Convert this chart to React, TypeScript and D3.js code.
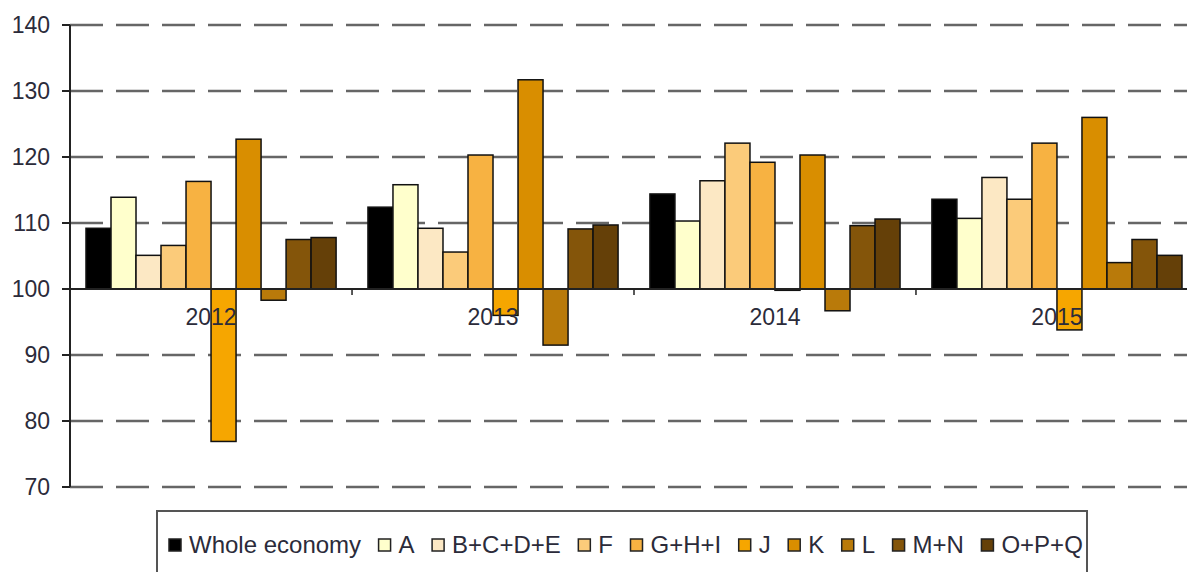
import React, { useRef, useEffect } from 'react';
import * as d3 from 'd3';

const years = ['2012', '2013', '2014', '2015'];
const sectors = ['Whole economy', 'A', 'B+C+D+E', 'F', 'G+H+I', 'J', 'K', 'L', 'M+N', 'O+P+Q'];
const colors = ['#000000', '#FFFFCC', '#FCE8C4', '#FBCB7A', '#F7B242', '#F6A600', '#D98E00', '#B97A0A', '#84550A', '#654008'];

// one array per year, in sector order
const values2012 = [109.2, 113.9, 105.1, 106.6, 116.3, 76.9, 122.7, 98.3, 107.5, 107.8];
const values2013 = [112.4, 115.8, 109.2, 105.6, 120.3, 96.0, 131.7, 91.5, 109.1, 109.7];
const values2014 = [114.4, 110.3, 116.4, 122.1, 119.2, 99.8, 120.3, 96.7, 109.6, 110.6];
const values2015 = [113.6, 110.7, 116.9, 113.6, 122.1, 93.8, 126.0, 104.0, 107.5, 105.1];
const yTicks = [70, 80, 90, 100, 110, 120, 130, 140];

const seriesByYear = [values2012, values2013, values2014, values2015];

const font = 'Arial, "Liberation Sans", sans-serif';

const App = () => {
  const svgRef = useRef<SVGSVGElement>(null);
  const width = 1187;
  const height = 572;

  useEffect(() => {
    const svg = d3.select(svgRef.current);
    svg.selectAll('*').remove();

    const left = 70;
    const right = 1198;
    const y = d3.scaleLinear().domain([70, 140]).range([487, 25]);
    const x0 = d3.scaleBand().domain(years).range([left, right]).paddingInner(0.113).paddingOuter(0.0567);
    const x1 = d3.scaleBand().domain(sectors).range([0, x0.bandwidth()]);
    const half = (x0.step() - x0.bandwidth()) / 2;

    // gridlines
    svg.append('g')
      .selectAll('line')
      .data(yTicks.filter((t) => t !== 100))
      .enter()
      .append('line')
      .attr('x1', left)
      .attr('x2', right)
      .attr('y1', (d) => y(d))
      .attr('y2', (d) => y(d))
      .attr('stroke', '#666')
      .attr('stroke-width', 2.5)
      .attr('stroke-dasharray', '33,13');

    // bars
    const groups = svg.append('g')
      .selectAll('g')
      .data(years)
      .enter()
      .append('g')
      .attr('transform', (d) => `translate(${x0(d)},0)`);

    groups.selectAll('rect')
      .data((d, i) => seriesByYear[i].map((v, j) => ({ sector: sectors[j], value: v, color: colors[j] })))
      .enter()
      .append('rect')
      .attr('x', (d) => x1(d.sector)!)
      .attr('width', x1.bandwidth())
      .attr('y', (d) => Math.min(y(d.value), y(100)))
      .attr('height', (d) => Math.abs(y(d.value) - y(100)))
      .attr('fill', (d) => d.color)
      .attr('stroke', '#111')
      .attr('stroke-width', 1.5);

    // y axis
    const axis = svg.append('g');
    axis.append('line')
      .attr('x1', left).attr('x2', left)
      .attr('y1', y(140)).attr('y2', y(70))
      .attr('stroke', '#222').attr('stroke-width', 2);
    axis.selectAll('line.tick')
      .data(yTicks)
      .enter()
      .append('line')
      .attr('class', 'tick')
      .attr('x1', left - 8).attr('x2', left)
      .attr('y1', (d) => y(d)).attr('y2', (d) => y(d))
      .attr('stroke', '#222').attr('stroke-width', 2);
    axis.selectAll('text')
      .data(yTicks)
      .enter()
      .append('text')
      .attr('x', 50)
      .attr('y', (d) => y(d))
      .attr('dy', '0.36em')
      .attr('text-anchor', 'end')
      .attr('font-family', font)
      .attr('font-size', 23)
      .attr('fill', '#2b2b3a')
      .text((d) => d);

    // category axis at 100
    svg.append('line')
      .attr('x1', left - 8).attr('x2', right)
      .attr('y1', y(100)).attr('y2', y(100))
      .attr('stroke', '#222').attr('stroke-width', 2);
    svg.append('g')
      .selectAll('line')
      .data(years.slice(1))
      .enter()
      .append('line')
      .attr('x1', (d) => x0(d)! - half)
      .attr('x2', (d) => x0(d)! - half)
      .attr('y1', y(100)).attr('y2', y(100) + 6)
      .attr('stroke', '#222').attr('stroke-width', 1.5);

    svg.append('g')
      .selectAll('text')
      .data(years)
      .enter()
      .append('text')
      .attr('x', (d) => x0(d)! + x0.bandwidth() / 2)
      .attr('y', y(100) + 36)
      .attr('text-anchor', 'middle')
      .attr('font-family', font)
      .attr('font-size', 23)
      .attr('fill', '#2b2b3a')
      .text((d) => d);

    // legend
    const legend = svg.append('g');
    legend.append('rect')
      .attr('x', 157).attr('y', 511)
      .attr('width', 930).attr('height', 80)
      .attr('fill', '#fff')
      .attr('stroke', '#555').attr('stroke-width', 2);
    let cx = 169;
    sectors.forEach((s, i) => {
      legend.append('rect')
        .attr('x', cx).attr('y', 539)
        .attr('width', 12).attr('height', 12)
        .attr('fill', colors[i])
        .attr('stroke', '#222').attr('stroke-width', 1.5);
      const t = legend.append('text')
        .attr('x', cx + 20)
        .attr('y', 553)
        .attr('font-family', font)
        .attr('font-size', 24)
        .attr('fill', '#2b2b3a')
        .text(s);
      const w = (t.node() as SVGTextElement).getComputedTextLength();
      cx += 20 + w + 17.5;
    });
  }, []);

  return (
    <div>
      <svg
        ref={svgRef}
        width={width}
        height={height}
        style={{ position: 'absolute', left: 0, top: 0, background: '#fff' }}
      ></svg>
    </div>
  );
};

export default App;
